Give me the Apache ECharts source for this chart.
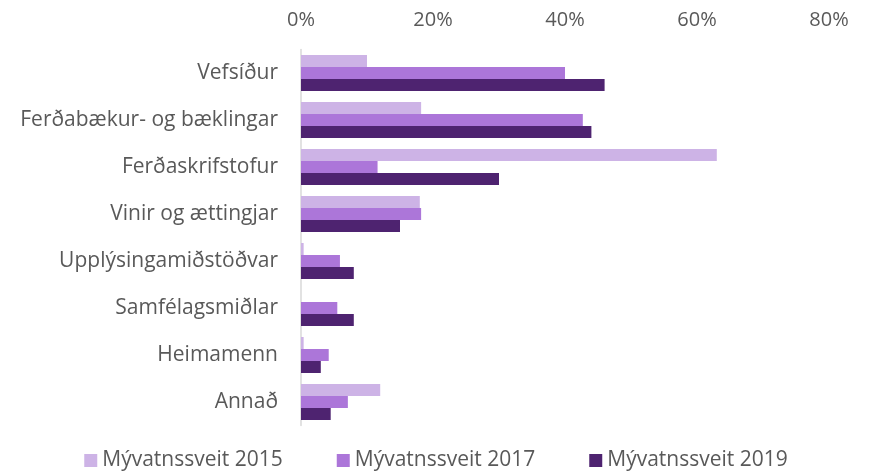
<!DOCTYPE html>
<html><head><meta charset="utf-8">
<script src="https://cdn.jsdelivr.net/npm/echarts@6/dist/echarts.min.js"></script>
<style>html,body{margin:0;padding:0;background:#fff}#c{width:872px;height:474px}</style>
</head><body><div id="c"></div>
<script>
const categories = ['Vefsíður','Ferðabækur- og bæklingar','Ferðaskrifstofur','Vinir og ættingjar','Upplýsingamiðstöðvar','Samfélagsmiðlar','Heimamenn','Annað'];
const seriesNames = ['Mývatnssveit 2015','Mývatnssveit 2017','Mývatnssveit 2019'];
const v2015 = [10.0, 18.2, 63.0, 18.0, 0.4, 0, 0.4, 12.0];
const v2017 = [40.0, 42.7, 11.6, 18.2, 5.9, 5.5, 4.2, 7.1];
const v2019 = [46.0, 44.0, 30.0, 15.0, 8.0, 8.0, 3.0, 4.5];
const xTicks = [0, 20, 40, 60, 80];
const colors = ['#CDB3E6','#AC76D9','#4E2370'];
const font = 'Open Sans';
const chart = echarts.init(document.getElementById('c'));
const vals = [v2015, v2017, v2019];
chart.setOption({
  animation: false,
  color: colors,
  grid: {left: 301, right: 43, top: 49.5, height: 376, containLabel: false},
  legend: {
    top: 448, left: 'center', itemWidth: 13, itemHeight: 13, itemGap: 54, padding: 2,
    icon: 'rect',
    textStyle: {fontFamily: font, fontSize: 21, color: '#595959'},
    data: seriesNames
  },
  xAxis: {
    type: 'value', position: 'top', min: xTicks[0], max: xTicks[xTicks.length-1], interval: 20,
    axisLine: {show: false}, axisTick: {show: false}, splitLine: {show: false},
    axisLabel: {formatter: '{value}%', fontFamily: font, fontSize: 20, color: '#595959', margin: 19}
  },
  yAxis: {
    type: 'category', data: categories, inverse: true,
    axisLine: {show: true, lineStyle: {color: '#D9D9D9', width: 1.5}},
    axisTick: {show: false},
    axisLabel: {fontFamily: font, fontSize: 21, color: '#595959', margin: 23}
  },
  series: seriesNames.map((n, i) => ({
    name: n, type: 'bar', data: vals[i], barWidth: 12, barGap: '0%',
    itemStyle: {color: colors[i]}
  }))
});
</script></body></html>
